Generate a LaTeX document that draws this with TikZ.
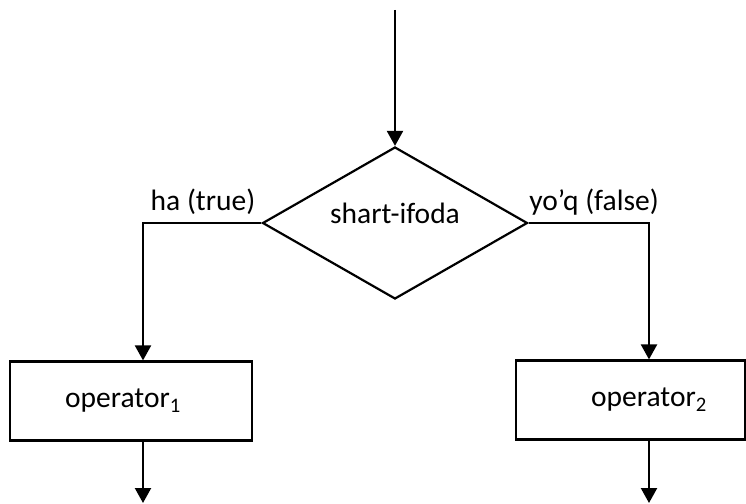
\documentclass[tikz,border=0pt]{standalone}
\usepackage{fontspec}
\setmainfont{Carlito}
\usetikzlibrary{shapes.geometric,arrows.meta}
\begin{document}
\begin{tikzpicture}[x=1bp,y=-1bp,line width=2.2bp,
  txt/.style={font=\fontsize{29.5bp}{33bp}\selectfont, inner sep=0pt},
  box/.style={draw, rectangle, inner sep=0pt, minimum height=79bp},
  dia/.style={draw, diamond, inner sep=0pt, minimum width=265bp, minimum height=152bp, aspect=1.74},
  arr/.style={-{Triangle[width=16bp,length=15bp]}}]
\useasboundingbox (0,0) rectangle (746,504);
% nodes
\coordinate (top) at (395,10);
\node[dia] (d) at (395,223) {};
\node[txt] (dt) at (395,213) {shart-ifoda};
\node[box, minimum width=242bp] (b1) at (131,401) {};
\node[box, minimum width=229bp] (b2) at (630.5,400) {};
\node[txt] (t1) at (123,401) {operator\textsubscript{1}};
\node[txt] (t2) at (649,400) {operator\textsubscript{2}};
\node[txt] (lt) at (203,202) {ha (true)};
\node[txt] (lf) at (594,202) {yo’q (false)};
\coordinate (lc) at (143,223);
\coordinate (rc) at (649,223);
\coordinate (lo) at (143,503);
\coordinate (ro) at (649,503);
% connectors
\draw[arr] (top) -- (d.north);
\draw[arr] (d.west) -- (lc) -- (lc |- b1.north);
\draw[arr] (d.east) -- (rc) -- (rc |- b2.north);
\draw[arr] (lc |- b1.south) -- (lo);
\draw[arr] (rc |- b2.south) -- (ro);
\end{tikzpicture}
\end{document}
